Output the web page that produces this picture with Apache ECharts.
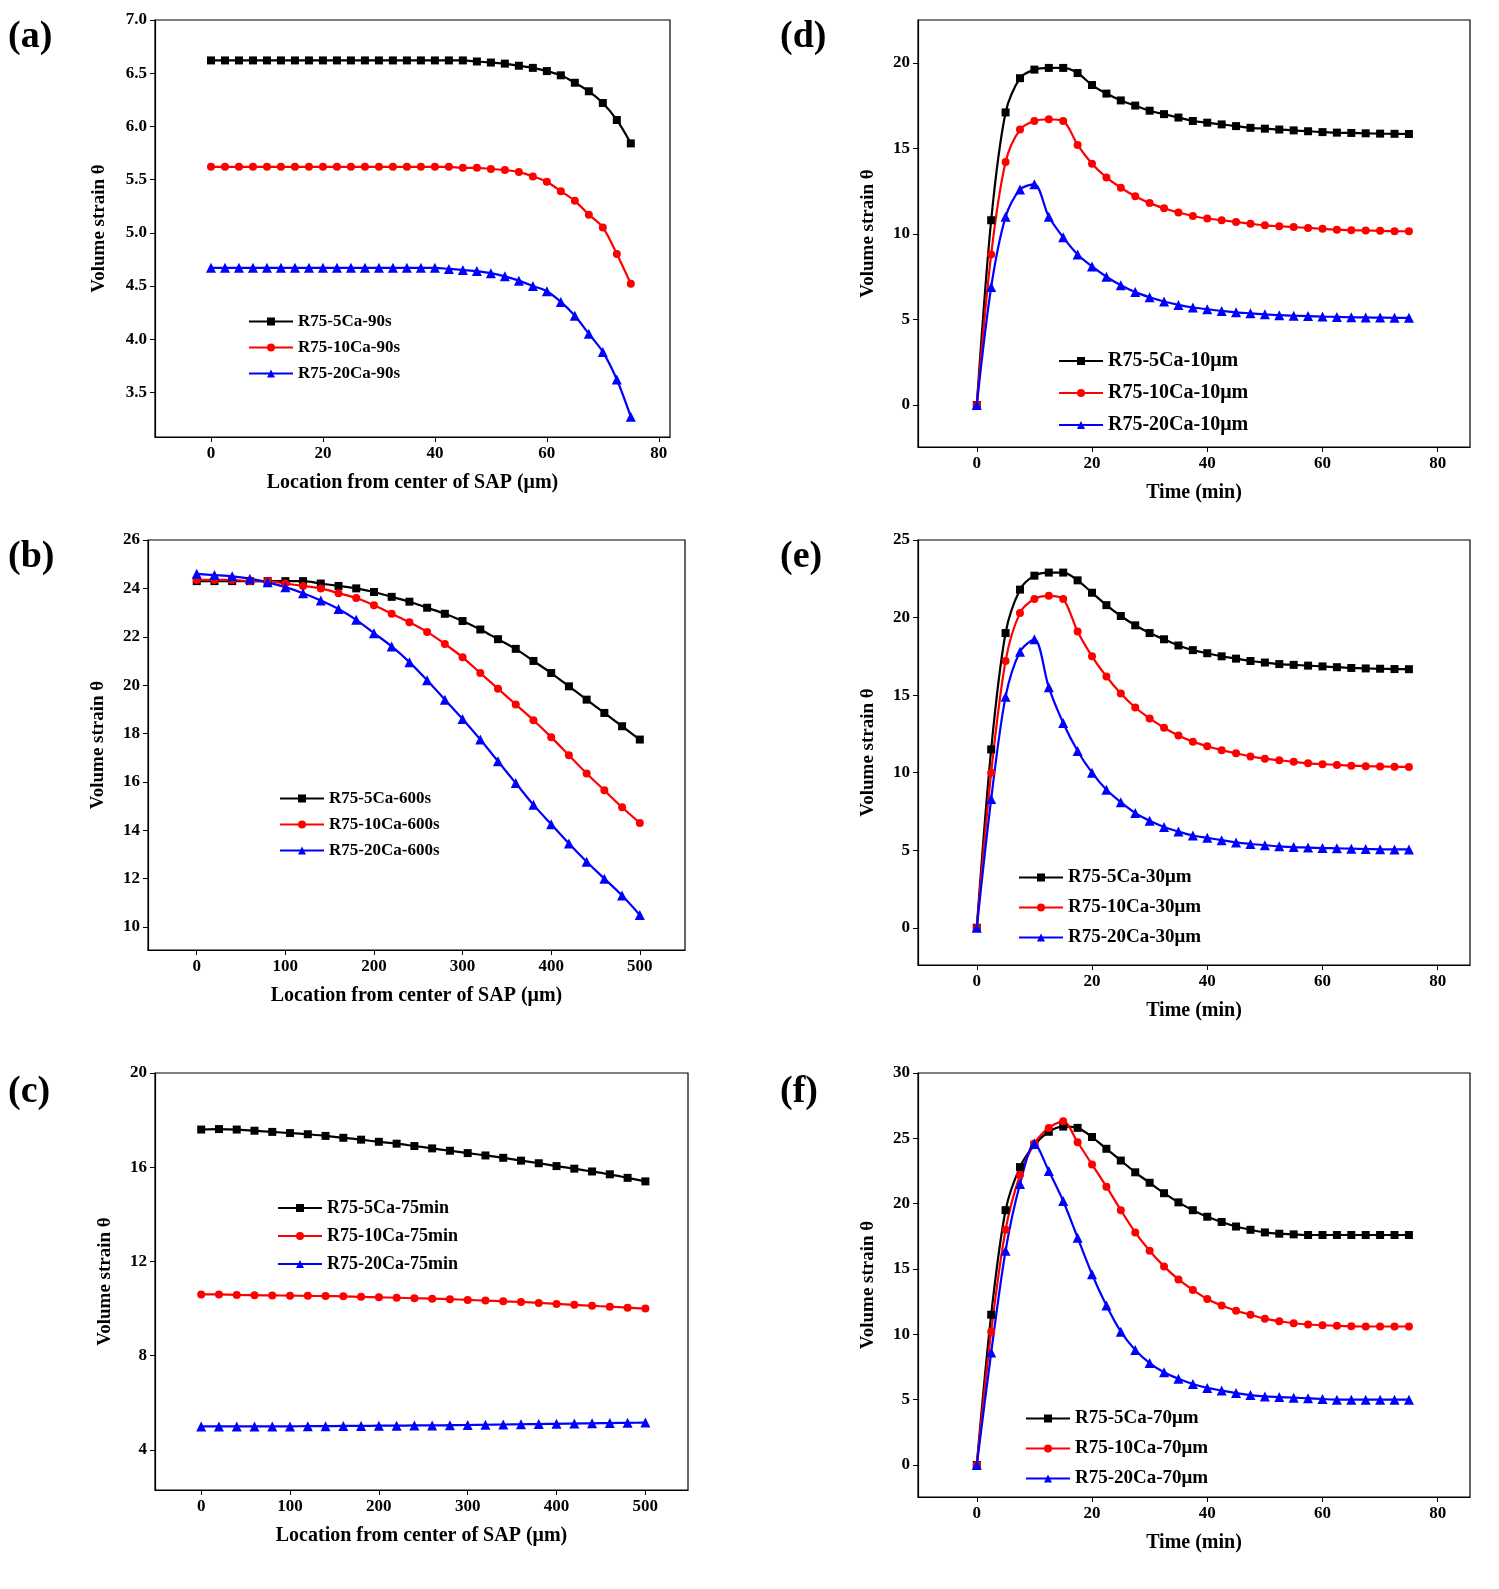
<!DOCTYPE html>
<html>
<head>
<meta charset="utf-8">
<title></title>
<style>
  body{ margin:0; background:#fff; }
  #chart{ width:1499px; height:1589px; }
</style>
<script src="https://cdn.jsdelivr.net/npm/echarts@6/dist/echarts.min.js"></script>
</head>
<body>
<div id="chart"></div>
<script>
// x values
var xShort = [];   // 0..75 step 2.5
for (var i = 0; i <= 30; i++) xShort.push(i * 2.5);
var xLong = [];    // 0..500 step 20
for (var j = 0; j <= 25; j++) xLong.push(j * 20);

// (a) 90s
var a5  = [6.62,6.62,6.62,6.62,6.62,6.62,6.62,6.62,6.62,6.62,6.62,6.62,6.62,6.62,6.62,6.62,6.62,6.62,6.62,6.61,6.60,6.59,6.57,6.55,6.52,6.48,6.41,6.33,6.22,6.06,5.84];
var a10 = [5.62,5.62,5.62,5.62,5.62,5.62,5.62,5.62,5.62,5.62,5.62,5.62,5.62,5.62,5.62,5.62,5.62,5.62,5.61,5.61,5.60,5.59,5.57,5.53,5.48,5.39,5.30,5.17,5.05,4.80,4.52];
var a20 = [4.67,4.67,4.67,4.67,4.67,4.67,4.67,4.67,4.67,4.67,4.67,4.67,4.67,4.67,4.67,4.67,4.67,4.66,4.65,4.64,4.62,4.59,4.55,4.50,4.45,4.35,4.22,4.05,3.88,3.62,3.27];
// (b) 600s
var b5  = [24.3,24.3,24.3,24.3,24.3,24.3,24.3,24.2,24.1,24.0,23.85,23.65,23.45,23.2,22.95,22.65,22.3,21.9,21.5,21.0,20.5,19.95,19.4,18.85,18.3,17.75];
var b10 = [24.35,24.35,24.35,24.3,24.3,24.2,24.1,24.0,23.8,23.6,23.3,22.95,22.6,22.2,21.7,21.15,20.5,19.85,19.2,18.55,17.85,17.1,16.35,15.65,14.95,14.3];
var b20 = [24.6,24.55,24.5,24.4,24.25,24.05,23.8,23.5,23.15,22.7,22.15,21.6,20.95,20.2,19.4,18.6,17.75,16.85,15.95,15.05,14.25,13.45,12.7,12.0,11.3,10.5];
// (c) 75min
var c5  = [17.6,17.62,17.6,17.55,17.5,17.45,17.4,17.33,17.25,17.17,17.08,17.0,16.9,16.8,16.7,16.6,16.5,16.4,16.28,16.17,16.05,15.94,15.82,15.7,15.55,15.4];
var c10 = [10.6,10.6,10.58,10.57,10.56,10.55,10.54,10.53,10.52,10.5,10.48,10.46,10.44,10.42,10.4,10.37,10.34,10.31,10.28,10.24,10.2,10.16,10.12,10.08,10.04,10.0];
var c20 = [5.0,5.0,5.0,5.0,5.0,5.0,5.01,5.01,5.02,5.02,5.03,5.03,5.04,5.04,5.05,5.06,5.07,5.08,5.09,5.1,5.11,5.12,5.13,5.14,5.15,5.16];
// (d) 10um
var d5  = [0,10.8,17.1,19.1,19.6,19.7,19.7,19.4,18.7,18.2,17.8,17.5,17.2,17.0,16.8,16.6,16.5,16.4,16.3,16.2,16.15,16.1,16.05,16.0,15.95,15.92,15.9,15.88,15.86,15.85,15.84];
var d10 = [0,8.8,14.2,16.1,16.6,16.7,16.6,15.2,14.1,13.3,12.7,12.2,11.8,11.5,11.25,11.05,10.9,10.8,10.7,10.6,10.5,10.45,10.4,10.35,10.3,10.25,10.22,10.2,10.18,10.16,10.15];
var d20 = [0,6.9,11.0,12.6,12.9,11.0,9.8,8.8,8.1,7.5,7.0,6.6,6.3,6.05,5.85,5.7,5.6,5.5,5.42,5.36,5.3,5.25,5.22,5.2,5.17,5.15,5.13,5.12,5.11,5.1,5.1];
// (e) 30um
var e5  = [0,11.5,19.0,21.8,22.7,22.9,22.9,22.4,21.6,20.8,20.1,19.5,19.0,18.6,18.2,17.9,17.7,17.5,17.35,17.2,17.1,17.0,16.95,16.9,16.85,16.8,16.75,16.72,16.7,16.68,16.67];
var e10 = [0,10.0,17.2,20.3,21.2,21.4,21.2,19.1,17.5,16.2,15.1,14.2,13.5,12.9,12.4,12.0,11.7,11.45,11.25,11.05,10.9,10.8,10.7,10.6,10.55,10.5,10.45,10.42,10.4,10.38,10.37];
var e20 = [0,8.3,14.9,17.8,18.6,15.5,13.2,11.4,10.0,8.9,8.1,7.4,6.9,6.5,6.2,5.95,5.8,5.65,5.5,5.4,5.32,5.25,5.2,5.17,5.14,5.12,5.1,5.08,5.06,5.05,5.05];
// (f) 70um
var f5  = [0,11.5,19.5,22.8,24.5,25.5,25.9,25.8,25.1,24.2,23.3,22.4,21.6,20.8,20.1,19.5,19.0,18.6,18.25,18.0,17.8,17.7,17.65,17.6,17.6,17.6,17.6,17.6,17.6,17.6,17.6];
var f10 = [0,10.2,18.0,22.2,24.6,25.8,26.3,24.7,23.0,21.3,19.5,17.8,16.4,15.2,14.2,13.4,12.7,12.2,11.8,11.5,11.2,11.0,10.85,10.75,10.7,10.65,10.62,10.6,10.6,10.6,10.6];
var f20 = [0,8.6,16.4,21.5,24.6,22.5,20.2,17.4,14.6,12.2,10.2,8.8,7.8,7.1,6.6,6.2,5.9,5.7,5.5,5.35,5.25,5.2,5.15,5.1,5.05,5.0,5.0,5.0,5.0,5.0,5.0];

// ticks
var xTicksShort = [0,20,40,60,80];
var xTicksLong  = [0,100,200,300,400,500];
var yTicksA = [3.5,4.0,4.5,5.0,5.5,6.0,6.5,7.0];
var yTicksB = [10,12,14,16,18,20,22,24,26];
var yTicksC = [4,8,12,16,20];
var yTicksD = [0,5,10,15,20];
var yTicksE = [0,5,10,15,20,25];
var yTicksF = [0,5,10,15,20,25,30];

var FONT = '"Liberation Serif","Times New Roman",serif';
var colors = ['#000000','#ff0000','#0000ff'];
var symbols = ['rect','circle','triangle'];

var grids = [], xAxes = [], yAxes = [], series = [], legends = [], graphics = [];

function panel(idx, box, xr, yr, xt, yt, yDec, xName, xs, ys, names, lg, tag, tagPos) {
    grids.push({ left: box[0], top: box[1], width: box[2] - box[0], height: box[3] - box[1],
                 show: true, borderColor: '#000', borderWidth: 1.2, backgroundColor: '#fff' });
    xAxes.push({
        type: 'value', gridIndex: idx, min: xr[0], max: xr[1],
        name: xName, nameLocation: 'middle', nameGap: 36,
        nameTextStyle: { fontFamily: FONT, fontWeight: 'bold', fontSize: 20, color: '#000' },
        axisLine: { onZero: false, lineStyle: { color: '#000', width: 1.2 } },
        axisTick: { customValues: xt, length: 5, lineStyle: { color: '#000' } },
        axisLabel: { customValues: xt, fontFamily: FONT, fontWeight: 'bold', fontSize: 17, color: '#000' },
        splitLine: { show: false }
    });
    yAxes.push({
        type: 'value', gridIndex: idx, min: yr[0], max: yr[1],
        name: 'Volume strain θ', nameLocation: 'middle', nameGap: yDec ? 46 : 40,
        nameTextStyle: { fontFamily: FONT, fontWeight: 'bold', fontSize: 19, color: '#000' },
        axisLine: { onZero: false, lineStyle: { color: '#000', width: 1.2 } },
        axisTick: { customValues: yt, length: 5, lineStyle: { color: '#000' } },
        axisLabel: { customValues: yt, fontFamily: FONT, fontWeight: 'bold', fontSize: 17, color: '#000',
                     formatter: function (v) { return yDec ? v.toFixed(1) : String(v); } },
        splitLine: { show: false }
    });
    var lnames = [];
    for (var k = 0; k < 3; k++) {
        var pts = xs.map(function (x, n) { return [x, ys[k][n]]; });
        series.push({
            name: names[k], type: 'line', xAxisIndex: idx, yAxisIndex: idx,
            data: pts, smooth: 0.3, symbol: symbols[k], symbolSize: k === 2 ? 10 : 8,
            color: colors[k], lineStyle: { width: 2.2 }
        });
        lnames.push(names[k]);
    }
    legends.push({
        data: lnames, orient: 'vertical', left: lg[0], top: lg[1], itemGap: lg[2],
        itemWidth: 44, itemHeight: 10,
        textStyle: { fontFamily: FONT, fontWeight: 'bold', fontSize: lg[3], color: '#000' }
    });
    graphics.push({ type: 'text', left: tagPos[0], top: tagPos[1],
        style: { text: tag, font: 'bold 38px ' + FONT, fill: '#000' } });
}

var locName = 'Location from center of SAP (μm)';
panel(0, [155, 20, 670, 437], [-10, 82], [3.08, 7.0], xTicksShort, yTicksA, true, locName,
      xShort, [a5, a10, a20], ['R75-5Ca-90s','R75-10Ca-90s','R75-20Ca-90s'], [243, 308, 9, 17], '(a)', [8, 18]);
panel(1, [148, 540, 685, 950], [-55, 551], [9.05, 26], xTicksLong, yTicksB, false, locName,
      xLong, [b5, b10, b20], ['R75-5Ca-600s','R75-10Ca-600s','R75-20Ca-600s'], [274, 785, 9, 17], '(b)', [8, 538]);
panel(2, [155, 1073, 688, 1490], [-52, 548], [2.3, 20], xTicksLong, yTicksC, false, locName,
      xLong, [c5, c10, c20], ['R75-5Ca-75min','R75-10Ca-75min','R75-20Ca-75min'], [272, 1194, 10, 18], '(c)', [8, 1073]);
panel(3, [918, 20, 1470, 447], [-10.2, 85.6], [-2.45, 22.5], xTicksShort, yTicksD, false, 'Time (min)',
      xShort, [d5, d10, d20], ['R75-5Ca-10μm','R75-10Ca-10μm','R75-20Ca-10μm'], [1053, 346, 12, 20], '(d)', [780, 18]);
panel(4, [918, 540, 1470, 965], [-10.2, 85.6], [-2.4, 25], xTicksShort, yTicksE, false, 'Time (min)',
      xShort, [e5, e10, e20], ['R75-5Ca-30μm','R75-10Ca-30μm','R75-20Ca-30μm'], [1013, 863, 11, 19], '(e)', [780, 538]);
panel(5, [918, 1073, 1470, 1497], [-10.2, 85.6], [-2.45, 30], xTicksShort, yTicksF, false, 'Time (min)',
      xShort, [f5, f10, f20], ['R75-5Ca-70μm','R75-10Ca-70μm','R75-20Ca-70μm'], [1020, 1404, 11, 19], '(f)', [780, 1073]);

var myChart = echarts.init(document.getElementById('chart'));
myChart.setOption({
    animation: false,
    backgroundColor: '#fff',
    grid: grids, xAxis: xAxes, yAxis: yAxes,
    legend: legends, series: series, graphic: graphics
});
</script>
</body>
</html>
